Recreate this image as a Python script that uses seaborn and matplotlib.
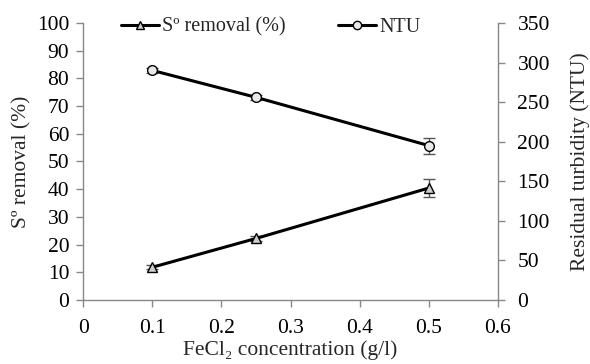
import matplotlib
matplotlib.use("Agg")
import matplotlib.pyplot as plt
import seaborn as sns
import pandas as pd
from matplotlib.lines import Line2D

conc = [0.1, 0.25, 0.5]
s_removal = [11.8, 22.2, 40.4]
s_err = [0.8, 1.0, 3.2]
ntu = [290, 256, 195]
ntu_err = [3, 3, 10]

sns.set_style("white")
plt.rcParams['font.family'] = ['Liberation Serif', 'DejaVu Serif']
plt.rcParams['mathtext.fontset'] = 'stix'

fig, ax = plt.subplots(figsize=(5.9, 3.64), dpi=100)
fig.subplots_adjust(left=0.141, right=0.844, top=0.937, bottom=0.176)
ax2 = ax.twinx()

df1 = pd.DataFrame({"x": conc, "y": s_removal})
df2 = pd.DataFrame({"x": conc, "y": ntu})

ax.errorbar(conc, s_removal, yerr=s_err, fmt='none', ecolor='#555555', elinewidth=1, capsize=4, zorder=2)
sns.lineplot(data=df1, x="x", y="y", ax=ax, color='black', linewidth=2.2,
             marker='^', markersize=7, markerfacecolor='#cccccc', markeredgecolor='black',
             markeredgewidth=1, zorder=3)
ax2.errorbar(conc, ntu, yerr=ntu_err, fmt='none', ecolor='#555555', elinewidth=1, capsize=4, zorder=2)
sns.lineplot(data=df2, x="x", y="y", ax=ax2, color='black', linewidth=2.2,
             marker='o', markersize=7, markerfacecolor='#e8e8e8', markeredgecolor='black',
             markeredgewidth=1, zorder=3)

ax.set_xlim(0, 0.6)
ax.set_ylim(0, 100)
ax2.set_ylim(0, 350)
ax.set_xticks([0, 0.1, 0.2, 0.3, 0.4, 0.5, 0.6])
ax.set_xticklabels(['0', '0.1', '0.2', '0.3', '0.4', '0.5', '0.6'])
ax.set_yticks(range(0, 101, 10))
ax2.set_yticks(range(0, 351, 50))

ax.set_xlabel("FeCl₂ concentration (g/l)", fontsize=15.5, labelpad=1)
ax.set_ylabel("Sº removal (%)", fontsize=15.5, labelpad=4)
ax2.set_ylabel("Residual turbidity (NTU)", fontsize=15.5, labelpad=15)

for a in (ax, ax2):
    for s in a.spines.values():
        s.set_color('#888888')
        s.set_linewidth(1)
    a.spines['top'].set_visible(False)
    a.tick_params(axis='both', labelsize=15.5, colors='black', length=5, width=1,
                  direction='out', color='#888888', pad=5)
ax.tick_params(axis='x', pad=9)
ax2.tick_params(axis='y', pad=9)
ax.spines['right'].set_visible(False)
ax2.spines['left'].set_visible(False)
ax2.spines['bottom'].set_visible(False)
ax.tick_params(axis='y', left=True, right=False)
ax.tick_params(axis='x', bottom=True)
ax2.tick_params(axis='y', right=True, left=False)

h1 = Line2D([], [], color='black', linewidth=2.2, marker='^', markersize=6,
            markerfacecolor='#cccccc', markeredgecolor='black')
h2 = Line2D([], [], color='black', linewidth=2.2, marker='o', markersize=6,
            markerfacecolor='#e8e8e8', markeredgecolor='black')
leg = ax.legend([h1, h2], ["Sº removal (%)", "NTU"], loc='center', bbox_to_anchor=(0.452, 0.985),
                ncol=2, frameon=False, fontsize=14.5, handlelength=1.9, handletextpad=0.15,
                columnspacing=2.6)
leg.set_zorder(10)

fig.savefig("out.png", dpi=100)
